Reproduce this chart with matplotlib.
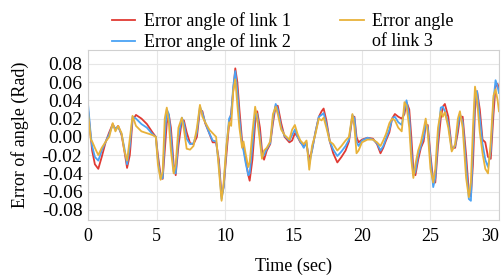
import matplotlib
matplotlib.use("Agg")
import matplotlib.pyplot as plt
from matplotlib.lines import Line2D

# time stamps (s) of the points
t = [0.0, 0.2, 0.3, 0.5, 0.75, 1.0, 1.3, 1.55, 1.8, 2.0, 2.2, 2.45, 2.65, 2.85,
     3.05, 3.25, 3.5, 3.9, 4.3, 4.7, 4.95, 5.1, 5.3, 5.45, 5.6, 5.75, 5.9, 6.05,
     6.25, 6.4, 6.6, 6.85, 7.0, 7.2, 7.45, 7.7, 7.95, 8.17, 8.35, 8.55, 8.85,
     9.1, 9.35, 9.55, 9.75, 9.9, 10.1, 10.3, 10.45, 10.6, 10.75, 10.9, 11.05,
     11.25, 11.35, 11.5, 11.7, 11.8, 12.0, 12.2, 12.35, 12.55, 12.7, 12.85,
     13.05, 13.3, 13.5, 13.7, 13.85, 14.1, 14.35, 14.7, 14.9, 15.1, 15.3, 15.5,
     15.75, 15.95, 16.15, 16.35, 16.6, 16.85, 17.05, 17.2, 17.4, 17.65, 17.9,
     18.2, 18.5, 18.8, 19.05, 19.3, 19.45, 19.6, 19.75, 20.0, 20.4, 20.8, 21.1,
     21.35, 21.55, 21.75, 22.0, 22.2, 22.4, 22.65, 22.9, 23.1, 23.25, 23.45,
     23.6, 23.75, 23.9, 24.1, 24.3, 24.5, 24.65, 24.8, 25.0, 25.2, 25.35, 25.55,
     25.75, 25.9, 26.05, 26.3, 26.55, 26.8, 27.0, 27.15, 27.35, 27.6, 27.8,
     27.95, 28.1, 28.25, 28.4, 28.6, 28.8, 29.0, 29.2, 29.4, 29.6, 29.75, 29.9,
     30.0]

err_link1 = [0.030, 0.000, -0.015, -0.030, -0.035, -0.022, -0.005, 0.005, 0.014,
             0.008, 0.012, 0.002, -0.015, -0.034, -0.020, 0.018, 0.024, 0.020,
             0.014, 0.005, 0.000, -0.020, -0.042, -0.046, -0.015, 0.015, 0.024,
             0.010, -0.030, -0.042, -0.010, 0.018, 0.018, 0.005, -0.007, -0.008,
             0.000, 0.030, 0.028, 0.015, 0.004, -0.006, -0.006, -0.025, -0.065,
             -0.055, -0.020, 0.015, 0.026, 0.050, 0.075, 0.060, 0.030, -0.005,
             -0.012, -0.025, -0.042, -0.048, -0.025, 0.015, 0.028, 0.010, -0.015,
             -0.025, -0.015, -0.008, 0.015, 0.034, 0.034, 0.015, 0.000, -0.006,
             -0.004, 0.004, 0.000, -0.006, -0.010, -0.008, -0.025, -0.015, 0.005,
             0.022, 0.028, 0.031, 0.018, -0.005, -0.018, -0.028, -0.022, -0.015,
             -0.005, 0.022, 0.022, 0.000, -0.006, -0.003, -0.001, -0.002, -0.008,
             -0.018, -0.012, -0.004, 0.005, 0.020, 0.025, 0.022, 0.020, 0.025,
             0.038, 0.030, 0.000, -0.035, -0.042, -0.025, -0.012, -0.005, 0.012,
             0.013, -0.020, -0.048, -0.050, -0.010, 0.020, 0.033, 0.036, 0.022,
             -0.012, -0.012, 0.005, 0.022, 0.022, -0.020, -0.060, -0.065, -0.030,
             0.030, 0.050, 0.030, -0.003, -0.006, -0.022, -0.024, 0.025, 0.055,
             0.058, 0.052]

err_link2 = [0.036, 0.002, -0.010, -0.022, -0.026, -0.015, -0.005, 0.003, 0.013,
             0.009, 0.011, 0.003, -0.012, -0.030, -0.010, 0.022, 0.020, 0.014,
             0.010, 0.003, 0.000, -0.025, -0.046, -0.045, 0.000, 0.030, 0.025,
             0.000, -0.038, -0.040, 0.000, 0.021, 0.015, -0.002, -0.008, -0.007,
             0.005, 0.033, 0.026, 0.016, 0.004, -0.004, -0.005, -0.030, -0.068,
             -0.055, -0.012, 0.020, 0.024, 0.055, 0.072, 0.050, 0.020, -0.010,
             -0.015, -0.028, -0.042, -0.040, -0.010, 0.025, 0.025, 0.000, -0.022,
             -0.020, -0.013, -0.007, 0.020, 0.036, 0.030, 0.010, 0.001, -0.004,
             0.002, 0.008, 0.000, -0.005, -0.012, -0.006, -0.030, -0.015, 0.005,
             0.022, 0.024, 0.026, 0.014, -0.005, -0.014, -0.021, -0.016, -0.010,
             -0.003, 0.024, 0.020, -0.005, -0.010, -0.004, -0.001, -0.003, -0.007,
             -0.015, -0.010, -0.002, 0.008, 0.020, 0.022, 0.016, 0.013, 0.030,
             0.040, 0.022, -0.015, -0.042, -0.038, -0.020, -0.010, 0.000, 0.015,
             0.010, -0.025, -0.055, -0.045, 0.000, 0.032, 0.033, 0.028, 0.015,
             -0.014, -0.010, 0.012, 0.025, 0.016, -0.030, -0.068, -0.070, -0.010,
             0.045, 0.050, 0.020, -0.008, -0.025, -0.033, -0.015, 0.040, 0.062,
             0.055, 0.048]

err_link3 = [0.027, -0.003, -0.005, -0.012, -0.020, -0.012, -0.005, 0.000, 0.015,
             0.006, 0.012, 0.004, -0.015, -0.026, -0.002, 0.023, 0.012, 0.006,
             0.004, 0.002, 0.000, -0.030, -0.047, -0.038, 0.020, 0.032, 0.015,
             -0.015, -0.040, -0.030, 0.010, 0.021, 0.008, -0.013, -0.014, -0.010,
             0.010, 0.035, 0.022, 0.016, 0.008, 0.004, 0.000, -0.035, -0.070,
             -0.050, -0.010, 0.016, 0.012, 0.050, 0.063, 0.035, 0.010, -0.012,
             -0.005, -0.018, -0.033, -0.028, 0.005, 0.033, 0.020, -0.005, -0.024,
             -0.015, -0.012, -0.005, 0.025, 0.033, 0.025, 0.008, 0.002, -0.003,
             0.008, 0.013, 0.003, -0.004, -0.008, -0.004, -0.036, -0.010, 0.003,
             0.020, 0.018, 0.021, 0.010, -0.005, -0.008, -0.015, -0.010, -0.004,
             0.000, 0.025, 0.010, -0.018, -0.015, -0.006, -0.003, -0.003, -0.006,
             -0.010, -0.004, 0.003, 0.015, 0.020, 0.018, 0.010, 0.006, 0.038,
             0.034, 0.010, -0.025, -0.045, -0.030, -0.015, -0.006, 0.008, 0.020,
             0.005, -0.035, -0.050, -0.035, 0.010, 0.028, 0.022, 0.027, 0.010,
             -0.016, -0.008, 0.020, 0.028, 0.010, -0.045, -0.066, -0.050, 0.010,
             0.055, 0.040, 0.005, -0.018, -0.035, -0.040, -0.005, 0.045, 0.052,
             0.040, 0.028]

plt.rcParams['font.family'] = ['Liberation Serif', 'DejaVu Serif']
plt.rcParams['font.size'] = 13

fig = plt.figure(figsize=(5.03, 2.75), dpi=100)
ax = fig.add_axes([0.175, 0.2, 0.817, 0.618])

l1, = ax.plot(t, err_link1, color='#e03a33', lw=1.3)
l2, = ax.plot(t, err_link2, color='#4aa3f5', lw=1.3)
l3, = ax.plot(t, err_link3, color='#e8b23a', lw=1.3)

ax.set_xlim(0, 30)
ax.set_ylim(-0.091, 0.095)
ax.set_xticks([0, 5, 10, 15, 20, 25, 30])
ax.set_yticks([-0.08, -0.06, -0.04, -0.02, 0.0, 0.02, 0.04, 0.06, 0.08])
ax.set_yticklabels(['-0.08', '-0.06', '-0.04', '-0.02', '0.00', '0.02', '0.04', '0.06', '0.08'])
ax.tick_params(length=0)
ax.tick_params(axis='x', pad=6, labelsize=13)
ax.tick_params(axis='y', pad=4, labelsize=14)
ax.get_xticklabels()[-1].set_horizontalalignment('right')  # keep "30" inside the figure
ax.grid(True, color='#e6e6e6', lw=0.8)
for s in ax.spines.values():
    s.set_color('#d0d0d0')
    s.set_linewidth(0.8)

ax.set_xlabel('Time (sec)', labelpad=9)
ax.set_ylabel('Error of angle (Rad)', labelpad=9)

# third label wraps onto a second line, so its second line gets an empty handle
blank = Line2D([], [], color='none')
fig.legend([l1, l2, l3, blank],
           ['Error angle of link 1', 'Error angle of link 2', 'Error angle', 'of link 3'],
           ncol=2, loc='upper left', bbox_to_anchor=(112 / 503, 1 - 12 / 275),
           frameon=False, borderpad=0, borderaxespad=0, handlelength=1.3,
           handletextpad=0.45, columnspacing=2.75, labelspacing=0.18, fontsize=13)

fig.savefig('out.png', dpi=100)
